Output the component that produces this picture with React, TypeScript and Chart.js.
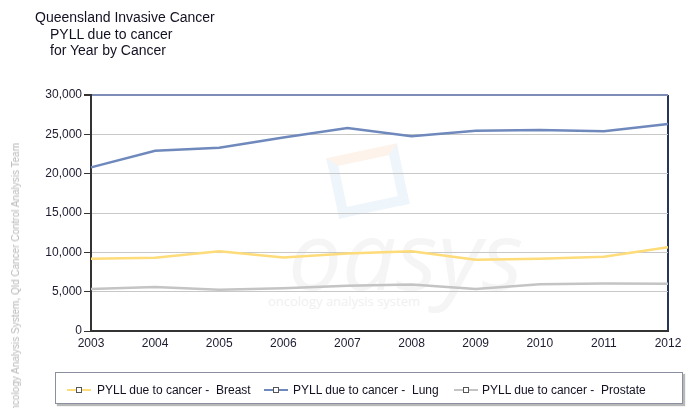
import React, { useEffect, useRef } from "react";
import { Chart, registerables } from "chart.js";

Chart.register(...registerables);

const years = ["2003", "2004", "2005", "2006", "2007", "2008", "2009", "2010", "2011", "2012"];
const breast = [9200, 9300, 10150, 9350, 9850, 10150, 9050, 9200, 9450, 10650];
const lung = [20800, 22900, 23300, 24600, 25800, 24750, 25450, 25550, 25400, 26300];
const prostate = [5350, 5600, 5250, 5450, 5750, 5900, 5350, 5950, 6050, 6000];
const yMin = 0;
const yMax = 30000;
const yStep = 5000;

const seriesNames = [
  "PYLL due to cancer -  Breast",
  "PYLL due to cancer -  Lung",
  "PYLL due to cancer -  Prostate",
];
const seriesColors = ["#fedc7a", "#6f89bd", "#c4c4c4"];

const titleLines = ["Queensland Invasive Cancer", "PYLL due to cancer", "for Year by Cancer"];
const sideNote = "Oncology Analysis System, Qld Cancer Control Analysis Team";

const FONT = "'Liberation Sans', Arial, sans-serif";

export default function App() {
  const ref = useRef<HTMLCanvasElement | null>(null);

  useEffect(() => {
    document.body.style.margin = "0";
    const canvas = ref.current;
    if (!canvas) return;
    const data = [breast, lung, prostate];
    const chart = new Chart(canvas, {
      type: "line",
      data: {
        labels: years,
        datasets: data.map((d, i) => ({
          label: seriesNames[i],
          data: d,
          borderColor: seriesColors[i],
          backgroundColor: seriesColors[i],
          borderWidth: 2.5,
          pointRadius: 0,
          tension: 0,
          fill: false,
        })),
      },
      options: {
        responsive: false,
        animation: false,
        layout: { padding: { top: 95, right: 25, left: 0, bottom: 0 } },
        plugins: {
          legend: { display: false },
          title: { display: false },
          tooltip: { enabled: false },
        },
        scales: {
          x: {
            type: "category",
            offset: false,
            grid: {
              color: (ctx: any) => (ctx.index === years.length - 1 ? "#27355c" : "rgba(0,0,0,0)"),
              lineWidth: 2,
              drawTicks: false,
            },
            border: { display: true, color: "#333333", width: 2 },
            ticks: {
              autoSkip: false,
              maxRotation: 0,
              padding: 5,
              color: "#1c1c30",
              font: { family: FONT, size: 12 },
            },
            afterFit: (scale: any) => {
              scale.height = 77;
            },
          },
          y: {
            min: yMin,
            max: yMax,
            ticks: {
              stepSize: yStep,
              padding: 2,
              color: "#1c1c30",
              font: { family: FONT, size: 12 },
              callback: (v: any) => Number(v).toLocaleString("en-US"),
            },
            grid: {
              color: (ctx: any) => (ctx.tick && ctx.tick.value === yMax ? "#7d8db5" : "#c8c8c8"),
              lineWidth: (ctx: any) => (ctx.tick && ctx.tick.value === yMax ? 2 : 1),
              tickLength: 7,
              tickColor: "#333333",
              drawTicks: true,
            },
            border: { display: true, color: "#333333", width: 2 },
            afterFit: (scale: any) => {
              scale.width = 91;
            },
          },
        },
      },
    });
    return () => chart.destroy();
  }, []);

  const legendPos = [
    { icon: 67, text: 97 },
    { icon: 264, text: 293 },
    { icon: 454, text: 482 },
  ];

  return (
    <div
      style={{
        position: "absolute",
        left: 0,
        top: 0,
        width: 693,
        height: 408,
        overflow: "hidden",
        background: "#ffffff",
        fontFamily: FONT,
      }}
    >
      {/* watermark */}
      <div
        style={{
          position: "absolute",
          left: 332,
          top: 150,
          width: 52,
          height: 42,
          border: "10px solid #eef5fb",
          borderTopColor: "#fdf3ea",
          transform: "rotate(-12deg)",
        }}
      />
      <div
        style={{
          position: "absolute",
          left: 288,
          top: 205,
          fontSize: 96,
          fontStyle: "italic",
          fontFamily: "'Open Sans', sans-serif",
          color: "#f5f5f5",
          lineHeight: "96px",
        }}
      >
        oasys
      </div>
      <div
        style={{
          position: "absolute",
          left: 268,
          top: 292,
          fontSize: 13,
          color: "#f0f0f0",
          fontFamily: "'Open Sans', sans-serif",
        }}
      >
        oncology analysis system
      </div>

      <canvas
        ref={ref}
        width={693}
        height={408}
        style={{ position: "absolute", left: 0, top: 0, width: 693, height: 408 }}
      />

      {/* title */}
      <div style={{ position: "absolute", left: 35, top: 9, fontSize: 14, lineHeight: "16.5px", color: "#111122" }}>
        <div>{titleLines[0]}</div>
        <div style={{ paddingLeft: 15 }}>{titleLines[1]}</div>
        <div style={{ paddingLeft: 15 }}>{titleLines[2]}</div>
      </div>

      {/* side note */}
      <div
        style={{
          position: "absolute",
          left: 10,
          top: 143,
          fontSize: 10,
          color: "#b8b8b8",
          writingMode: "vertical-rl",
          transform: "rotate(180deg)",
          whiteSpace: "nowrap",
        }}
      >
        {sideNote}
      </div>

      {/* legend */}
      <div
        style={{
          position: "absolute",
          left: 55,
          top: 372,
          width: 626,
          height: 30,
          border: "1px solid #8b90a0",
          boxShadow: "2px 2px 1px #b8b8b8",
          background: "#ffffff",
        }}
      />
      {seriesNames.map((name, i) => (
        <React.Fragment key={name}>
          <div
            style={{
              position: "absolute",
              left: legendPos[i].icon,
              top: 389,
              width: 24,
              height: 2,
              background: seriesColors[i],
            }}
          />
          <div
            style={{
              position: "absolute",
              left: legendPos[i].icon + 9,
              top: 387,
              width: 4,
              height: 4,
              border: "1px solid #555555",
              background: "#ffffff",
            }}
          />
          <div
            style={{
              position: "absolute",
              left: legendPos[i].text,
              top: 382,
              fontSize: 12,
              lineHeight: "16px",
              color: "#111122",
              whiteSpace: "pre",
            }}
          >
            {name}
          </div>
        </React.Fragment>
      ))}
    </div>
  );
}
